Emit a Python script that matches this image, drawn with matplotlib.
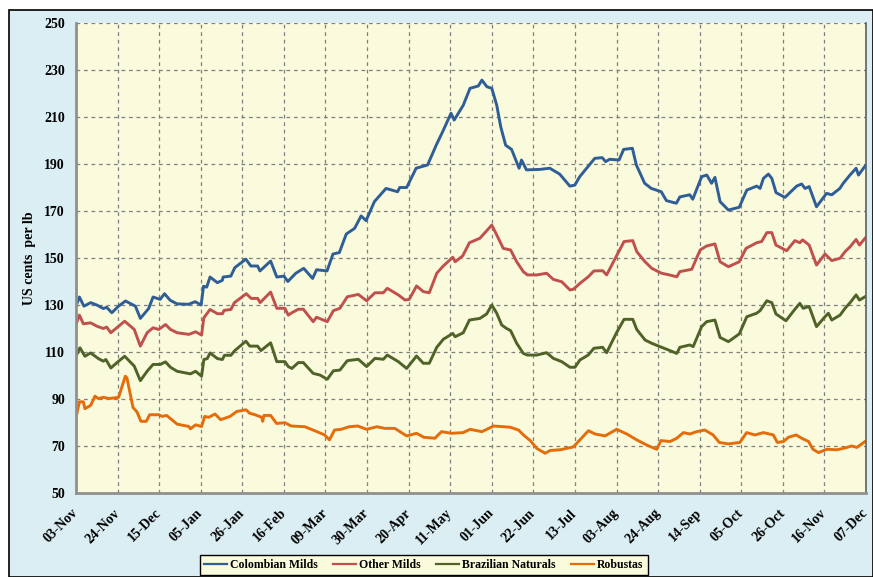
import numpy as np
import matplotlib
matplotlib.use('Agg')
import matplotlib.pyplot as plt
import matplotlib.dates as mdates
from matplotlib.patches import Rectangle

# day offsets from 03-Nov and prices (US cents per lb)
start = np.datetime64('2014-11-03')

colombian_days = [0, 1.7, 4, 7.4, 10.5, 13.8, 15.5, 18.1, 21.5, 25, 30, 32.5, 36.7, 38.9, 42.5, 44.7,
                  47.6, 51, 56.8, 60.2, 63.2, 64.4, 66, 67.7, 71.4, 73.9, 74.3, 78.2, 80.2, 85.8, 88.3,
                  91.7, 92.9, 98.3, 101.4, 105, 107, 111, 115, 119.5, 121.5, 126.8, 129.8, 133, 136.5,
                  140.7, 144, 146.5, 150.7, 156.6, 162.4, 163.5, 167, 171.8, 177.6, 181.9, 185.2, 189.4,
                  191, 195.6, 199, 203.2, 205, 207.5, 210, 212.5, 214.5, 217, 220, 223.8, 225, 227.5,
                  234.2, 239.3, 244.3, 249.4, 251.9, 254.4, 258.6, 262, 265.8, 267.5, 269.5, 274.3,
                  276.6, 281, 283, 287.2, 290.6, 295.6, 298.2, 303.2, 305, 310, 311.5, 316, 318.6, 321,
                  322.7, 325.3, 329.5, 335, 338.8, 343.8, 345.5, 347.2, 349.7, 351.4, 353.6, 358.1, 364,
                  366.5, 368.2, 370.3, 374, 379.1, 381.7, 385.8, 387.5, 390.9, 394, 395.2, 398.5]
colombian_vals = [129.5, 133.4, 129.5, 131, 130, 128.5, 129, 126.7, 129.5, 131.7, 129.5, 124.3, 128.5,
                  133.4, 132.4, 134.8, 132, 130.5, 130.3, 131.4, 130, 138, 137.6, 141.9, 139.5, 140.5,
                  141.9, 142.3, 145.9, 149.5, 146.6, 146.6, 144.5, 148.7, 141.9, 142.3, 140, 143.5,
                  145.6, 141.3, 145, 144.5, 151.7, 152.3, 160.2, 162.6, 167.9, 165.9, 174, 179.6, 178.2,
                  180, 180, 188.2, 189.6, 198, 203.8, 211.6, 208.7, 215, 222.2, 223.2, 225.7, 222.9,
                  222.2, 215, 205.9, 198, 196.2, 188.2, 191.7, 187.5, 187.7, 188.2, 185.7, 180.6, 181,
                  184.6, 188.9, 192.4, 192.7, 191, 192, 191.7, 196.2, 196.7, 189.6, 181.8, 179.6, 178.2,
                  174.4, 173.3, 176, 176.9, 175, 184.6, 185.3, 181.8, 184.3, 174, 170.4, 171.6, 178.9,
                  180.6, 179.6, 183.9, 185.7, 183.9, 177.8, 175.8, 180.6, 181.5, 179.6, 180.4, 171.8,
                  177.5, 176.9, 179.6, 181.8, 185.3, 188.2, 185.3, 189.1]

other_days = [0, 1.7, 3.7, 7.4, 10.5, 13.8, 15.5, 17.6, 20.6, 24.6, 29.4, 32.5, 35.9, 38.9, 41.8,
              45.2, 47.7, 51.1, 57, 60.4, 63.4, 64.6, 67.7, 71.4, 74, 74.8, 78.2, 80, 86, 88.5, 91.8,
              93, 98.3, 101.4, 105.5, 107.2, 109, 112.3, 114.8, 119.8, 121.5, 126.9, 130, 133.3, 137,
              142.6, 146.8, 151, 155.2, 157.2, 162.8, 166.2, 168.3, 172, 175.4, 178.4, 182.2, 185.5,
              190.3, 191.5, 195.3, 198.7, 204, 207.4, 210, 212.5, 215.8, 219.5, 222.6, 225.9, 228,
              232.7, 237.7, 241.1, 245.3, 249.5, 251.2, 254.5, 258.7, 261.6, 266, 268, 273, 276.8,
              281.2, 283.2, 287.4, 290.8, 295.8, 299.7, 303.4, 305, 311, 315.2, 318.5, 322.7, 325.3,
              329.5, 335, 338.4, 343.8, 346.3, 348.9, 351.4, 353.5, 358.9, 363.1, 365.6, 367, 370.3,
              374, 378.3, 381.7, 385.9, 388.4, 391, 394, 395.7, 398.5]
other_vals = [121.7, 125.7, 122, 122.4, 121, 120, 120.6, 118.2, 120.3, 123.1, 119.6, 112.5, 118.2,
              120.3, 119.6, 121.7, 119.6, 118.2, 117.5, 118.6, 117.2, 124.6, 128.1, 126.3, 126.3,
              127.7, 128.1, 131, 134.8, 132.8, 132.8, 131, 135.5, 128.6, 128.6, 125.7, 126.7, 128.2,
              128.2, 122.9, 124.8, 122.9, 127.6, 128.6, 133.5, 134.5, 131.8, 135.2, 135.2, 137.1,
              134.3, 132.1, 132.4, 138.1, 135.7, 135.2, 143.5, 146.6, 150.3, 148.4, 150.9, 156.5,
              158.4, 161.6, 164, 159.8, 154.1, 153.4, 148.4, 144.2, 142.8, 142.8, 143.5, 140.9, 139.9,
              136.4, 136.7, 139.2, 142, 144.5, 144.6, 142.8, 150.9, 157, 157.4, 152.7, 148.4, 145.6,
              143.5, 142.8, 142, 144.2, 145.2, 153.4, 155.1, 156, 148.4, 146.3, 148.4, 154.1, 156.5,
              157, 160.8, 160.8, 155.5, 153.1, 157.4, 156.5, 157.7, 155.5, 147, 151.7, 148.9, 149.9,
              152.7, 154.8, 157.9, 155.5, 158.4]

brazil_days = [0, 2, 4.5, 7.4, 11.3, 13.8, 15.1, 17.6, 20.6, 24.6, 29.4, 32.5, 35.9, 38.9, 42.6, 45.2,
               47.7, 51.1, 57.8, 60.4, 63.4, 64.6, 66.3, 67.7, 71.4, 73.9, 75, 78.2, 80.2, 85.8, 87.8,
               91.7, 93.4, 98.3, 101.4, 105.5, 107.2, 109, 112.3, 114.8, 119.8, 123.2, 126.9, 130,
               133.3, 137, 142.6, 146.8, 151, 155.2, 157.2, 162.8, 167, 172, 175.4, 178.4, 182.2,
               185.5, 190.3, 191.5, 195.6, 198.7, 204, 207.4, 210, 212.5, 215, 217.3, 219.5, 222.6,
               225.9, 228, 232.7, 237.7, 241.1, 245.3, 249.5, 252, 254.5, 258.7, 261.6, 266, 268, 273,
               276.8, 281.2, 283.2, 287.4, 290.8, 295.8, 300, 303.4, 305, 310, 311.7, 316, 318.5,
               322.7, 325.3, 329.5, 335, 338.8, 343.8, 345.5, 348.9, 351.4, 353.5, 358.6, 363.1,
               365.6, 367.3, 370.3, 374, 378.3, 380, 381.7, 385.9, 388.4, 391, 394, 395.7, 398.5]
brazil_vals = [108.2, 111.8, 108.2, 109.6, 107.2, 106.1, 106.8, 103.2, 105.4, 108.2, 104, 97.8, 101.8,
               104.7, 104.7, 105.8, 103.5, 101.8, 100.7, 101.8, 99.7, 106.8, 107.2, 109.6, 107.2,
               106.8, 108.6, 108.6, 110.6, 114.6, 112.5, 112.5, 110.6, 113.9, 105.9, 105.9, 103.8,
               103, 105.5, 105.5, 100.9, 100.2, 98.4, 102, 102.3, 106.3, 106.9, 103.8, 107.3, 106.9,
               108.7, 105.9, 103, 108.3, 105.2, 105.2, 112, 115.4, 117.9, 116.5, 118.2, 123.6, 124.3,
               126.2, 130, 126.5, 121.5, 120.1, 119.1, 113.7, 109.4, 108.7, 108.7, 109.7, 107.3, 105.9,
               103.5, 103.5, 106.6, 108.7, 111.6, 112, 109.7, 118.2, 123.9, 123.9, 119.6, 115.1,
               113.7, 112, 110.6, 109.4, 112, 113, 112.3, 120.8, 122.9, 123.6, 116.2, 114.4, 117.7,
               125, 126.5, 127.6, 131.8, 131, 126.2, 123.3, 128.2, 130.7, 128.6, 129.4, 120.8, 125,
               126.5, 123.6, 125.7, 128.6, 131, 134.3, 132.1, 133.5]

robusta_days = [0, 1.7, 3.7, 4.5, 7.4, 9.6, 11.3, 13.8, 16.8, 21.5, 24.9, 25.7, 28.8, 30.8, 32.8, 35.5,
                37.2, 41.8, 43.5, 45.8, 51.1, 57, 57.8, 60.4, 63.4, 65, 67, 70.2, 73.1, 77.8, 81.2,
                85.9, 87.6, 90.4, 93.8, 94.3, 94.9, 98.3, 101.3, 105.5, 108.8, 115.6, 120.6, 125.6,
                128, 130.6, 133.9, 138, 142.3, 146.8, 152, 156, 161, 167, 172, 175.7, 181.3, 184.6,
                189.7, 195.6, 199, 205, 210.9, 219.3, 223.5, 226, 229.4, 232.7, 236.9, 239.5, 244.5,
                251.2, 254.5, 258.8, 262.2, 267.2, 273.1, 278.2, 283.2, 288.3, 293.3, 295.4, 300,
                303.4, 306.8, 310, 313.4, 317.6, 321.8, 324.9, 329.5, 335.3, 338.7, 342.9, 347.2,
                352.2, 354.2, 357.3, 359.8, 363.7, 366.5, 370, 372.2, 375, 379.3, 384.3, 387.6, 391.8,
                394.4, 398.5]
robusta_vals = [82.2, 88.8, 88.8, 85.9, 87.3, 91.2, 90.2, 90.7, 90.2, 90.7, 99.7, 99, 86.4, 84.5, 80.5,
                80.5, 83.3, 83.3, 82.6, 83, 79.3, 78.3, 77.3, 79, 78.3, 82.6, 82.2, 83.6, 81.2, 82.6,
                84.7, 85.4, 84, 83.3, 82.2, 80.5, 83, 83, 79.6, 79.9, 78.5, 78.2, 76.5, 74.7, 72.6,
                76.8, 77.1, 78.2, 78.5, 77.1, 78.2, 77.5, 77.5, 74.3, 75.4, 73.7, 73.3, 76.1, 75.4,
                75.7, 77.1, 76.1, 78.5, 78, 76.8, 74.7, 72.3, 69, 66.9, 68.1, 68.4, 69.6, 72.6, 76.5,
                75.1, 74.3, 77.1, 75.1, 72.6, 70.4, 68.6, 72.3, 71.9, 73.3, 75.7, 75.1, 76.1, 76.8,
                74.7, 71.5, 70.9, 71.5, 75.7, 74.7, 75.7, 74.7, 71.5, 71.9, 73.7, 74.7, 73.3, 71.9,
                68.6, 67.2, 68.6, 68.4, 69, 70, 69.4, 71.9]

series = [
    ('Colombian Milds', colombian_days, colombian_vals, '#2F5E97'),
    ('Other Milds', other_days, other_vals, '#C0504D'),
    ('Brazilian Naturals', brazil_days, brazil_vals, '#4F6228'),
    ('Robustas', robusta_days, robusta_vals, '#E46C0A'),
]

tick_days = np.arange(0, 400, 21)

plt.rcParams['font.family'] = ['Liberation Serif', 'DejaVu Serif']
plt.rcParams['font.weight'] = 'bold'

fig = plt.figure(figsize=(8.73, 5.77), dpi=100)
fig.patch.set_facecolor('white')
frame = Rectangle((9 / 873, 0), 1 - 9 / 873, 1 - 10 / 577, transform=fig.transFigure,
                  facecolor='#DAEEF3', edgecolor='black', linewidth=1.2, zorder=-10)
fig.add_artist(frame)

ax = fig.add_axes([76 / 873, 1 - 493 / 577, 790 / 873, 470 / 577])
ax.set_facecolor('#FAFADC')

for name, days, vals, col in series:
    dates = start + np.array([int(round(d * 24)) for d in days]).astype('timedelta64[h]')
    ax.plot(dates, vals, color=col, linewidth=2.1, label=name, solid_joinstyle='round')

ticks = start + tick_days.astype('timedelta64[D]')
ax.set_xticks(ticks)
ax.xaxis.set_major_formatter(mdates.DateFormatter('%d-%b'))
ax.set_xlim(ticks[0], ticks[-1])
ax.set_ylim(50, 250)
ax.set_yticks(np.arange(50, 251, 20))

ax.grid(True, color='#808080', linestyle=(0, (3, 3)), linewidth=0.9)
ax.tick_params(length=0, labelsize=10)
ax.tick_params(axis='y', pad=8)
ax.tick_params(axis='x', pad=13)
for lbl in ax.get_xticklabels():
    lbl.set_rotation(45)
    lbl.set_ha('right')
    lbl.set_va('center')
    lbl.set_rotation_mode('anchor')
    lbl.set_fontweight('bold')
for lbl in ax.get_yticklabels():
    lbl.set_fontweight('bold')

ax.spines['top'].set_visible(False)
ax.spines['right'].set_color('#606060')
ax.spines['right'].set_linewidth(1.2)
ax.spines['left'].set_color('#909090')
ax.spines['left'].set_linewidth(2)
ax.spines['bottom'].set_color('#909090')
ax.spines['bottom'].set_linewidth(2)

ax.set_ylabel('US cents  per lb', fontsize=10, fontweight='bold', labelpad=6)

leg = fig.legend(loc='center', bbox_to_anchor=(424 / 873, 1 - 565 / 577), ncol=4, frameon=True,
                 fancybox=False, facecolor='#FAFADC', edgecolor='black', framealpha=1,
                 prop={'weight': 'bold', 'size': 8.5}, handlelength=1.9, handletextpad=0.3,
                 columnspacing=1.3, borderpad=0.35)
leg.get_frame().set_linewidth(1.0)
for line in leg.get_lines():
    line.set_linewidth(1.6)

fig.savefig('out.png', dpi=100)
